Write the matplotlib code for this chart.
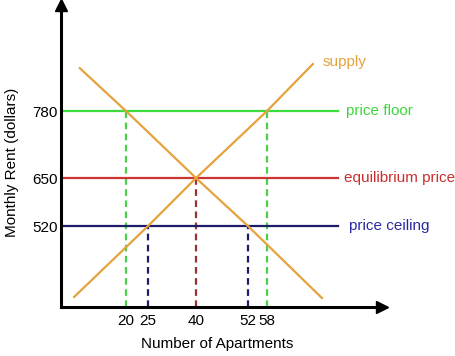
import numpy as np
import matplotlib
matplotlib.use('Agg')
import matplotlib.pyplot as plt
from matplotlib.scale import FuncScale

plt.rcParams.update({'font.family': ['Liberation Sans', 'DejaVu Sans'], 'font.size': 11})

# --- data ---
x_ticks = [20, 25, 40, 52, 58]
y_ticks = [520, 650, 780]

supply_q = [8.2, 25, 40, 58, 72.5]
supply_p = [328, 520, 650, 780, 871]
demand_q = [9.5, 20, 40, 52, 75.4]
demand_p = [863, 780, 650, 520, 325]

price_floor = 780
price_eq = 650
price_ceiling = 520
floor_q = [20, 58]
eq_q = [40]
ceiling_q = [25, 52]
line_end_q = 80.5

# the sketch is not drawn to scale: where each tick sits along its axis (axes fraction)
x_tick_frac = [0.2025, 0.271, 0.4206, 0.5826, 0.6417]
y_tick_frac = [0.268, 0.427, 0.649]


def pw(v, xs, ys):
    v = np.asarray(v, dtype=float)
    out = np.interp(v, xs, ys)
    lo = (ys[1] - ys[0]) / (xs[1] - xs[0])
    hi = (ys[-1] - ys[-2]) / (xs[-1] - xs[-2])
    out = np.where(v < xs[0], ys[0] + (v - xs[0]) * lo, out)
    out = np.where(v > xs[-1], ys[-1] + (v - xs[-1]) * hi, out)
    return out


fig = plt.figure(figsize=(4.55, 3.56), dpi=100)
ax = fig.add_axes([61 / 455, 1 - 307 / 356, 321 / 455, 302 / 356])

ax.set_xscale(FuncScale(ax, (lambda v: pw(v, x_ticks, x_tick_frac),
                             lambda f: pw(f, x_tick_frac, x_ticks))))
ax.set_yscale(FuncScale(ax, (lambda v: pw(v, y_ticks, y_tick_frac),
                             lambda f: pw(f, y_tick_frac, y_ticks))))
x0, x1 = pw([0, 1], x_tick_frac, x_ticks)
y0, y1 = pw([0, 1], y_tick_frac, y_ticks)
ax.set_xlim(x0, x1)
ax.set_ylim(y0, y1)

orange = '#E6A23C'
green = '#3CDC3C'
red = '#CC3333'
navy = '#1C1C68'

ax.plot(supply_q, supply_p, color=orange, lw=1.6, zorder=3)
ax.plot(demand_q, demand_p, color=orange, lw=1.6, zorder=3)

dash = (0, (3, 2))
for q in floor_q:
    ax.plot([q, q], [y0, price_floor], color='#4CD04C', lw=1.6, ls=dash, zorder=2)
for q in eq_q:
    ax.plot([q, q], [y0, price_eq], color='#993333', lw=1.6, ls=dash, zorder=2)
for q in ceiling_q:
    ax.plot([q, q], [y0, price_ceiling], color=navy, lw=1.6, ls=dash, zorder=2)

xs0 = pw(0.006, x_tick_frac, x_ticks)
ax.plot([xs0, line_end_q], [price_floor] * 2, color=green, lw=1.6, zorder=2)
ax.plot([xs0, line_end_q], [price_eq] * 2, color=red, lw=1.6, zorder=2)
ax.plot([xs0, line_end_q], [price_ceiling] * 2, color=navy, lw=1.6, zorder=2)

ax.annotate('supply', (supply_q[-1], supply_p[-1]), xytext=(7, 1.5),
            textcoords='offset points', color=orange, va='center', ha='left')
ax.annotate('price floor', (line_end_q, price_floor), xytext=(6, 0),
            textcoords='offset points', color='#3CD83C', va='center', ha='left')
ax.annotate('equilibrium price', (line_end_q, price_eq), xytext=(4.5, 0),
            textcoords='offset points', color='#CC2E2E', va='center', ha='left')
ax.annotate('price ceiling', (line_end_q, price_ceiling), xytext=(7.5, 0),
            textcoords='offset points', color='#2A2AA0', va='center', ha='left')

# axes with arrow heads
for s in ['top', 'right']:
    ax.spines[s].set_visible(False)
for s in ['left', 'bottom']:
    ax.spines[s].set_linewidth(2.2)
ax.plot([0], [1], marker='^', color='k', ms=8, transform=ax.transAxes, clip_on=False)
ax.plot([1], [0], marker='>', color='k', ms=8, transform=ax.transAxes, clip_on=False)

ax.set_xticks(x_ticks)
ax.set_xticklabels([str(v) for v in x_ticks])
ax.set_yticks(y_ticks)
ax.set_yticklabels([str(v) for v in y_ticks])
ax.xaxis.set_minor_locator(matplotlib.ticker.NullLocator())
ax.yaxis.set_minor_locator(matplotlib.ticker.NullLocator())
ax.tick_params(axis='x', length=0, pad=5)
ax.tick_params(axis='y', length=0, pad=2.5)

ax.set_xlabel('Number of Apartments')
ax.set_ylabel('Monthly Rent (dollars)')
ax.xaxis.set_label_coords(0.486, -0.1225)
ax.yaxis.set_label_coords(-0.153, 0.48)
ax.xaxis.label.set_va('center')
ax.yaxis.label.set_va('center')

fig.savefig('out.png', dpi=100)
